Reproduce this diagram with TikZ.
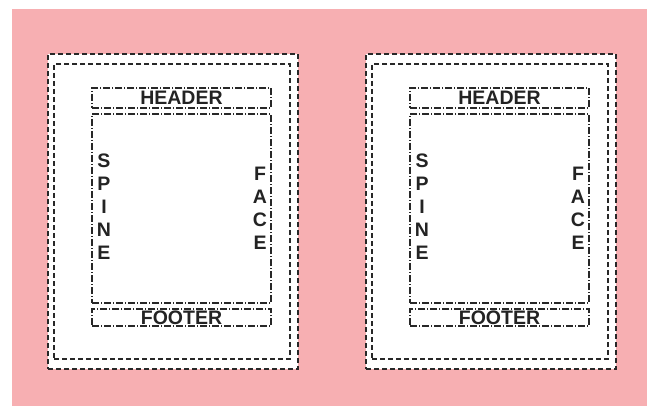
\documentclass[tikz,border=0pt]{standalone}
\usepackage{fontspec}
\setmainfont{Liberation Sans}
\definecolor{pinkbg}{RGB}{247,175,178}
\definecolor{linec}{RGB}{40,40,40}
\definecolor{textc}{RGB}{35,35,35}
\tikzset{
  pageframe/.style={draw=linec, fill=white, line width=1.3pt, dash pattern=on 5pt off 3pt, inner sep=0pt, outer sep=0pt},
  marginframe/.style={draw=linec, line width=1.3pt, dash pattern=on 5pt off 3pt, inner sep=0pt, outer sep=0pt},
  zone/.style={draw=linec, line width=1.1pt, dash pattern=on 7pt off 2pt on 1pt off 2pt, inner sep=0pt, outer sep=0pt,
    text=textc, font=\fontsize{19.5}{19.5}\selectfont\bfseries},
  vlbl/.style={inner sep=0pt, align=center, text=textc, font=\fontsize{19.5}{23}\selectfont\bfseries}
}
\begin{document}
\begin{tikzpicture}[x=1pt,y=-1pt]
\path[use as bounding box] (0,0) rectangle (655,406);
\fill[pinkbg] (12,9) rectangle (647,406);
\foreach \p/\d in {L/0,R/318}{
  \node[pageframe, minimum width=250pt, minimum height=315pt] (page\p) at (173+\d,211.5) {};
  \node[marginframe, minimum width=236pt, minimum height=295pt] (margin\p) at (172+\d,211.5) {};
  \node[zone, minimum width=179pt, minimum height=20pt] (header\p) at (181.5+\d,98) {HEADER};
  \node[zone, minimum width=179pt, minimum height=189pt] (body\p) at (181.5+\d,208.5) {};
  \node[zone, minimum width=179pt, minimum height=17pt] (footer\p) at (181.5+\d,317.5) {FOOTER};
  \node[vlbl] (spine\p) at (104+\d,206.5) {S\\P\\I\\N\\E};
  \node[vlbl] (face\p) at (260+\d,208) {F\\A\\C\\E};
}
\end{tikzpicture}
\end{document}
